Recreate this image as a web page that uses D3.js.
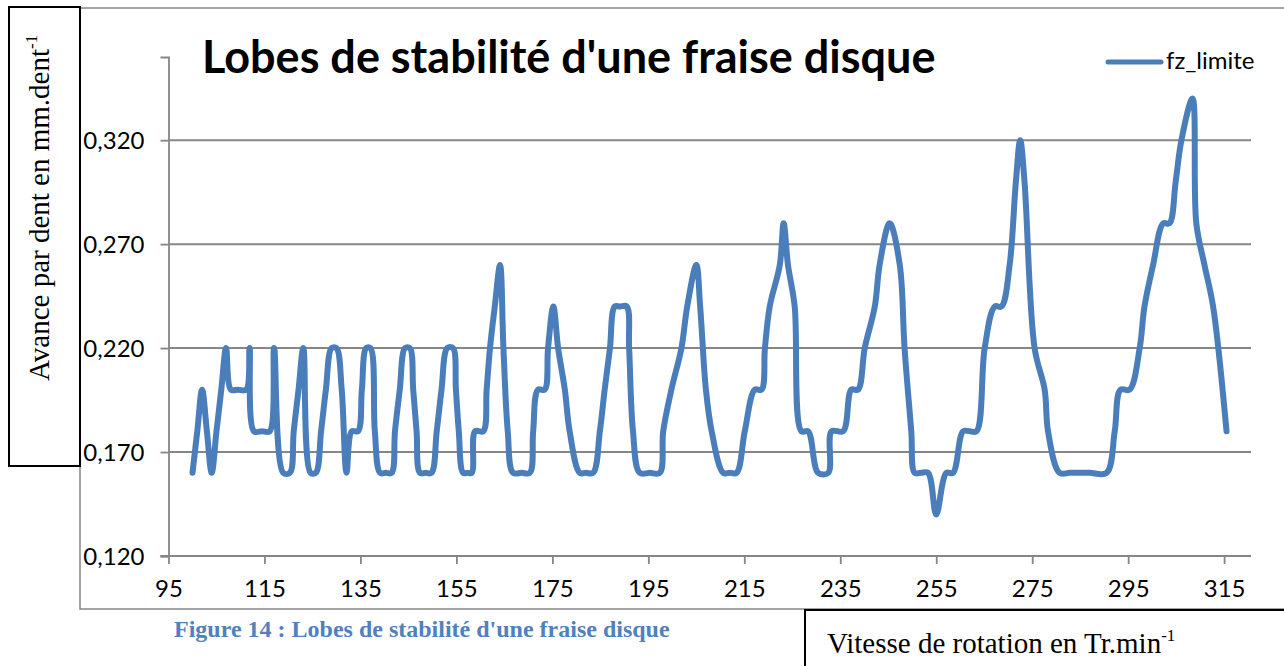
<!DOCTYPE html>
<html>
<head>
<meta charset="utf-8">
<script src="https://cdn.jsdelivr.net/npm/d3@7"></script>
<style>
    body { margin: 0; background: #fff; }
    svg { display: block; }
</style>
</head>
<body>
<div id="chart"></div>
<script>
'use strict';

var rpm = [100, 101, 102, 103, 104, 105, 106, 107, 108, 109.5, 111.2, 111.9, 112.8, 114.5, 116.1, 117, 118.9, 120.3,
    121.1, 122.1, 123.1, 124.6, 125.7, 126.8, 127.8, 129, 130, 131.1, 132.1, 133.2, 134.5, 135.3, 136.2, 137.1, 138,
    139.1, 140.3, 141.5, 142.2, 143.2, 144.3, 145.3, 146, 146.7, 147.4, 148.6, 149.8, 150.9, 151.9, 153.1, 154.3,
    154.9, 155.5, 156.4, 157.3, 158.2, 158.9, 160.6, 161.3, 162, 163, 164.1, 164.8, 165.7, 166.8, 168.6, 170.3, 171,
    172, 173.4, 174.1, 175.2, 176.2, 177.6, 178.6, 180.7, 182, 183.5, 184.9, 185.9, 187, 188, 189.1, 190.5, 191,
    191.8, 193.2, 195.3, 197.4, 198.1, 199.8, 201.9, 203.1, 205, 205.8, 207, 208.2, 210.6, 212, 213.4, 215.1, 217.2,
    218.6, 219.3, 220.3, 222.4, 223.2, 224.1, 225.5, 226.9, 228.3, 230.4, 232.5, 233.2, 235.6, 237.3, 238.7, 240.1,
    242.2, 243.2, 245.3, 247.4, 248.4, 249.8, 250.5, 251.8, 253.3, 255, 257.1, 258.5, 260.6, 262, 263.4, 265.1,
    267.2, 268.6, 270.3, 271.6, 272.5, 273.4, 275.5, 277.6, 278.3, 280.7, 282.8, 285, 287, 290.5, 292.2, 293.4,
    295.3, 297.4, 298.4, 300.2, 302.3, 303.6, 304.9, 306.1, 308.4, 309.2, 310.9, 312.7, 315.5];

var fz_limite = [0.16, 0.18, 0.20, 0.18, 0.16, 0.18, 0.20, 0.22, 0.20, 0.20, 0.20, 0.22, 0.18, 0.18, 0.18, 0.22, 0.16, 0.16,
    0.18, 0.20, 0.22, 0.16, 0.16, 0.18, 0.20, 0.22, 0.22, 0.20, 0.16, 0.18, 0.18, 0.20, 0.22, 0.22, 0.18,
    0.16, 0.16, 0.16, 0.18, 0.20, 0.22, 0.22, 0.20, 0.18, 0.16, 0.16, 0.16, 0.18, 0.20, 0.22, 0.22,
    0.20, 0.18, 0.16, 0.16, 0.16, 0.18, 0.18, 0.20, 0.22, 0.24, 0.26, 0.22, 0.18, 0.16, 0.16, 0.16, 0.18,
    0.20, 0.20, 0.22, 0.24, 0.22, 0.20, 0.18, 0.16, 0.16, 0.16, 0.18, 0.20, 0.22, 0.24, 0.24, 0.24, 0.22,
    0.18, 0.16, 0.16, 0.16, 0.18, 0.20, 0.22, 0.24, 0.26, 0.24, 0.20, 0.18, 0.16, 0.16, 0.16, 0.18, 0.20,
    0.20, 0.22, 0.24, 0.26, 0.28, 0.26, 0.24, 0.18, 0.18, 0.16, 0.16, 0.18, 0.18, 0.20, 0.20, 0.22,
    0.24, 0.26, 0.28, 0.26, 0.22, 0.18, 0.16, 0.16, 0.16, 0.14, 0.16, 0.16, 0.18, 0.18, 0.18, 0.22,
    0.24, 0.24, 0.26, 0.30, 0.32, 0.30, 0.22, 0.20, 0.18, 0.16, 0.16, 0.16, 0.16, 0.16, 0.18, 0.20,
    0.20, 0.22, 0.24, 0.26, 0.28, 0.28, 0.30, 0.32, 0.34, 0.28, 0.26, 0.24, 0.18];

var x_ticks = [95, 115, 135, 155, 175, 195, 215, 235, 255, 275, 295, 315];
var y_ticks = [0.12, 0.17, 0.22, 0.27, 0.32];

var chart_title = "Lobes de stabilité d'une fraise disque";
var series_name = 'fz_limite';
var figure_caption = "Figure 14 : Lobes de stabilité d'une fraise disque";

window.addEventListener('load', function() {
    var width = 1284, height = 666;
    var plot = { left: 168.5, right: 1251, top: 57, bottom: 556 };
    var grid_color = '#868686',
        line_color = '#4A7EBB',
        sans = 'Lato, Calibri, sans-serif',
        serif = '"Liberation Serif", "Times New Roman", serif';

    var svg = d3.select('#chart')
        .append('svg')
        .attr('width', width)
        .attr('height', height);

    svg.append('rect')
        .attr('width', width)
        .attr('height', height)
        .attr('fill', '#fff');

    var x = d3.scaleLinear().domain([95, 320.6]).range([plot.left, plot.right]);
    var y = d3.scaleLinear().domain([0.12, 0.36]).range([plot.bottom, plot.top]);

    // chart area frame
    svg.append('rect')
        .attr('x', 80)
        .attr('y', 8)
        .attr('width', 1300)
        .attr('height', 601)
        .attr('fill', 'none')
        .attr('stroke', grid_color)
        .attr('stroke-width', 1.5);

    // horizontal gridlines
    svg.append('g')
        .selectAll('line')
        .data(y_ticks.slice(1))
        .enter()
        .append('line')
        .attr('x1', plot.left)
        .attr('x2', plot.right)
        .attr('y1', function(d) { return y(d); })
        .attr('y2', function(d) { return y(d); })
        .attr('stroke', grid_color)
        .attr('stroke-width', 2);

    var y_axis = svg.append('g')
        .attr('transform', 'translate(' + plot.left + ',0)')
        .call(d3.axisLeft(y)
            .tickValues(y_ticks)
            .tickSize(8)
            .tickPadding(16)
            .tickFormat(function(d) { return d3.format('.3f')(d).replace('.', ','); }));

    var x_axis = svg.append('g')
        .attr('transform', 'translate(0,' + plot.bottom + ')')
        .call(d3.axisBottom(x)
            .tickValues(x_ticks)
            .tickSize(8)
            .tickPadding(16)
            .tickFormat(d3.format('d')));

    [y_axis, x_axis].forEach(function(axis) {
        axis.select('.domain').attr('stroke', grid_color).attr('stroke-width', 1.8);
        axis.selectAll('.tick line').attr('stroke', grid_color).attr('stroke-width', 1.8);
        axis.selectAll('.tick text')
            .attr('fill', '#000')
            .style('font-family', sans)
            .style('font-size', '24px');
    });
    y_axis.selectAll('.tick text').attr('dy', '0.36em');
    x_axis.select('.domain').attr('d', 'M' + (plot.left - 8) + ',0H' + plot.right);

    // the series
    var points = rpm.map(function(r, i) { return [r, fz_limite[i]]; });
    var line = d3.line()
        .x(function(d) { return x(d[0]); })
        .y(function(d) { return y(d[1]); })
        .curve(d3.curveCatmullRom.alpha(0.5));

    svg.append('path')
        .datum(points)
        .attr('d', line)
        .attr('fill', 'none')
        .attr('stroke', line_color)
        .attr('stroke-width', 6)
        .attr('stroke-linejoin', 'round')
        .attr('stroke-linecap', 'round');

    // title
    svg.append('text')
        .attr('x', 202)
        .attr('y', 73)
        .style('font-family', sans)
        .style('font-weight', 'bold')
        .style('font-size', '45px')
        .text(chart_title);

    // legend
    svg.append('line')
        .attr('x1', 1108)
        .attr('x2', 1161)
        .attr('y1', 62)
        .attr('y2', 62)
        .attr('stroke', line_color)
        .attr('stroke-width', 5)
        .attr('stroke-linecap', 'round');
    svg.append('text')
        .attr('x', 1166)
        .attr('y', 69)
        .style('font-family', sans)
        .style('font-size', '24px')
        .text(series_name);

    // y title box
    svg.append('rect')
        .attr('x', 9)
        .attr('y', 7)
        .attr('width', 71)
        .attr('height', 459)
        .attr('fill', '#fff')
        .attr('stroke', '#000')
        .attr('stroke-width', 2);
    var y_title = svg.append('text')
        .attr('transform', 'translate(49,381) rotate(-90)')
        .style('font-family', serif)
        .style('font-size', '29px');
    y_title.append('tspan').text('Avance par dent en mm.dent');
    y_title.append('tspan').attr('dy', -12).style('font-size', '17px').text('-1');

    // x title box
    svg.append('rect')
        .attr('x', 805)
        .attr('y', 610)
        .attr('width', 500)
        .attr('height', 80)
        .attr('fill', '#fff')
        .attr('stroke', '#000')
        .attr('stroke-width', 2);
    var x_title = svg.append('text')
        .attr('x', 827)
        .attr('y', 653)
        .style('font-family', serif)
        .style('font-size', '29px');
    x_title.append('tspan').text('Vitesse de rotation en Tr.min');
    x_title.append('tspan').attr('dy', -12).style('font-size', '17px').text('-1');

    // caption under the chart
    svg.append('text')
        .attr('x', 174)
        .attr('y', 637)
        .style('font-family', serif)
        .style('font-weight', 'bold')
        .style('font-size', '24px')
        .attr('fill', '#4F81BD')
        .text(figure_caption);
});
</script>
</body>
</html>
